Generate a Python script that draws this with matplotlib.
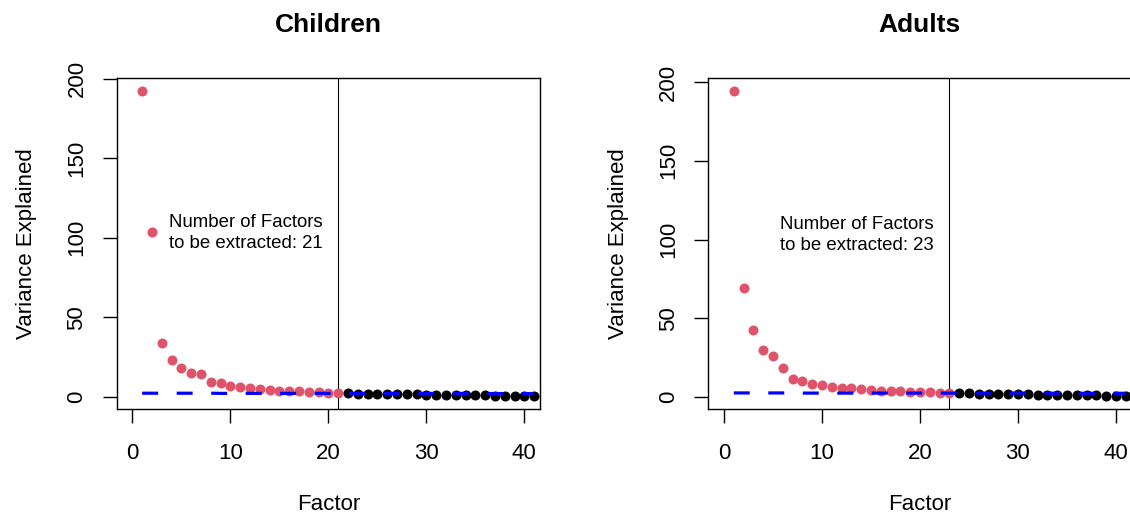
import matplotlib
matplotlib.use("Agg")
import matplotlib.pyplot as plt

plt.rcParams["font.family"] = ["Liberation Sans", "DejaVu Sans"]

# observed eigenvalues, retained factors (red) then the rest (black)
children_kept = [192.5, 103.4, 34.0, 23.1, 18.5, 15.1, 14.3, 9.7, 8.8, 7.2, 6.1,
                 5.7, 4.8, 4.4, 4.1, 3.8, 3.5, 3.2, 3.0, 2.8, 2.6]
children_rest = [2.3, 2.2, 2.1, 2.0, 1.9, 1.8, 1.7, 1.6, 1.5, 1.4, 1.35, 1.3,
                 1.2, 1.1, 1.0, 0.95, 0.9, 0.8, 0.7, 0.6]
adults_kept = [194.6, 69.0, 42.6, 29.9, 26.3, 18.6, 11.4, 10.0, 8.3, 7.4, 6.6, 6.0,
               5.5, 4.9, 4.2, 4.0, 3.8, 3.6, 3.4, 3.2, 3.0, 2.8, 2.6]
adults_rest = [2.4, 2.3, 2.2, 2.1, 2.0, 1.9, 1.8, 1.7, 1.6, 1.5, 1.4, 1.3,
               1.2, 1.1, 1.0, 0.9, 0.8, 0.6]

# simulated (parallel analysis) eigenvalues
children_sim = [2.4, 2.4, 2.4, 2.4, 2.4, 2.4, 2.4, 2.4, 2.3, 2.3, 2.3, 2.3, 2.3, 2.3,
                2.3, 2.3, 2.3, 2.3, 2.3, 2.3, 2.3, 2.3, 2.3, 2.3, 2.3, 2.3, 2.3, 2.3,
                2.3, 2.3, 2.3, 2.3, 2.3, 2.3, 2.2, 2.2, 2.2, 2.2, 2.2, 2.2, 2.2]
adults_sim = [2.6, 2.6, 2.6, 2.6, 2.6, 2.6, 2.6, 2.5, 2.5, 2.5, 2.5, 2.5, 2.5, 2.5,
              2.5, 2.5, 2.5, 2.5, 2.5, 2.5, 2.5, 2.5, 2.5, 2.5, 2.5, 2.5, 2.5, 2.5,
              2.5, 2.5, 2.5, 2.5, 2.5, 2.4, 2.4, 2.4, 2.4, 2.4, 2.4, 2.4, 2.4]

panels = [
    ("Children", children_kept, children_rest, children_sim),
    ("Adults", adults_kept, adults_rest, adults_sim),
]

RED = "#DF536B"
BLUE = "#0000FF"

fig = plt.figure(figsize=(11.3, 5.17), dpi=100)
lefts = [116.7 / 1130, 708.3 / 1130]

for left, (title, kept, rest, sim) in zip(lefts, panels):
    ax = fig.add_axes([left, 107.7 / 517, 423.3 / 1130, 331 / 517])
    nf = len(kept)
    x_kept = list(range(1, nf + 1))
    x_rest = list(range(nf + 1, nf + 1 + len(rest)))
    x_sim = list(range(1, len(sim) + 1))

    ax.plot(x_kept, kept, "o", color=RED, ms=7.2, mew=0, zorder=3)
    ax.plot(x_rest, rest, "o", color="black", ms=7.2, mew=0, zorder=3)
    ax.plot(x_sim, sim, color=BLUE, lw=2.3, dashes=(5.0, 5.8), zorder=4)
    ax.axvline(nf, color="black", lw=0.8, zorder=2)

    ax.annotate("Number of Factors\nto be extracted: %d" % nf, xy=(nf, 103),
                xytext=(-11, 0), textcoords="offset points",
                ha="right", va="center", multialignment="left",
                fontsize=13.4, linespacing=1.32)

    ymax = max(kept)
    ax.set_ylim(-0.04 * ymax, 1.04 * ymax)
    ax.set_xlim(-1.6, 41.6)
    ax.set_xticks([0, 10, 20, 30, 40])
    ax.set_yticks([0, 50, 100, 150, 200])
    for s in ax.spines.values():
        s.set_linewidth(1.0)
    ax.tick_params(direction="out", length=10, width=1.0, labelsize=16)
    ax.tick_params(axis="x", pad=14)
    ax.tick_params(axis="y", pad=11)
    for lab in ax.get_yticklabels():
        lab.set_rotation(90)
        lab.set_va("center")
    ax.set_xlabel("Factor", fontsize=16, labelpad=22)
    ax.set_ylabel("Variance Explained", fontsize=16, labelpad=21)
    ax.set_title(title, fontsize=19, fontweight="bold", pad=33)

fig.savefig("out.png", dpi=100)
